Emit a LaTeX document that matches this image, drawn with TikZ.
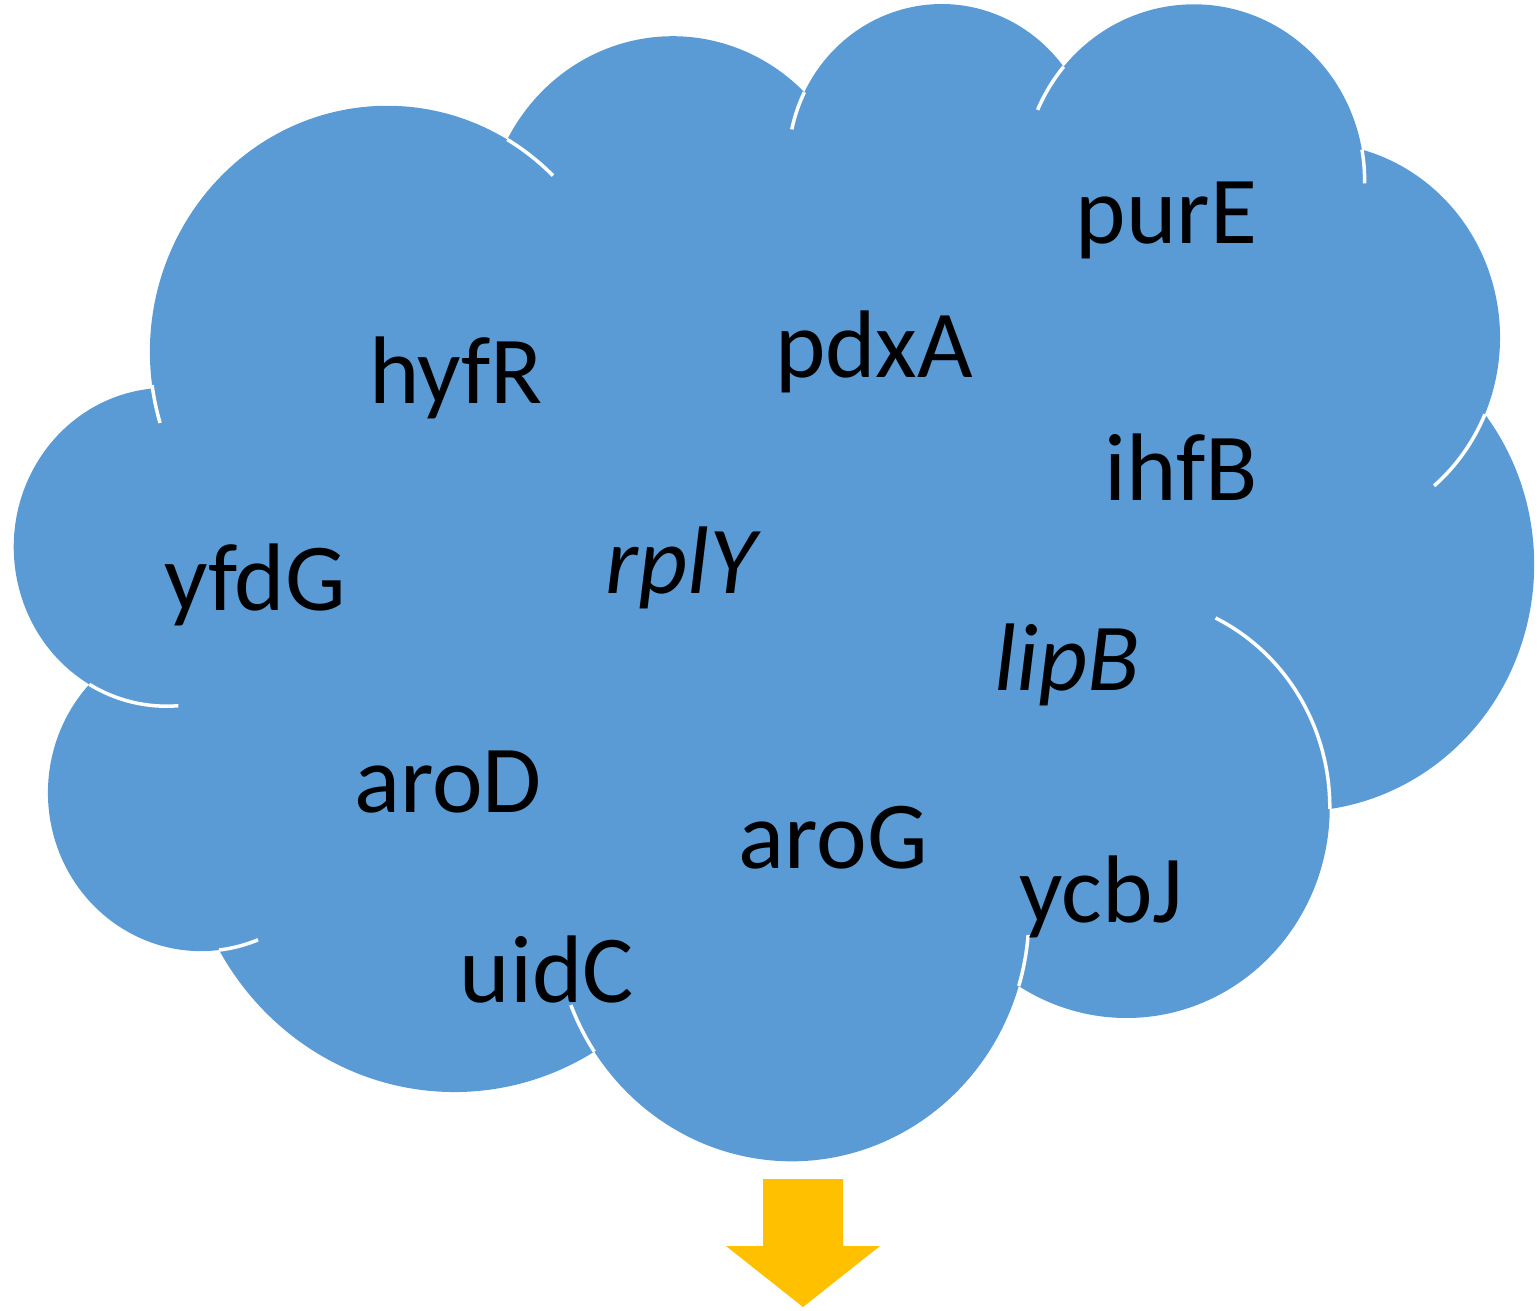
\documentclass[tikz,border=0pt]{standalone}
\usepackage{fontspec}
\setmainfont{Carlito}
\definecolor{cloudblue}{HTML}{5B9BD5}
\definecolor{arrowgold}{HTML}{FFC000}

% one white inner stroke of the cloud: centre x, centre y, start, end, x radius, y radius
\newcommand\puffarc[6]{%
  \draw[puff] (#1,#2) ++(#3:#5pt and #6pt)
    arc[start angle=#3, end angle=#4, x radius=#5pt, y radius=#6pt];}

\begin{document}
\begin{tikzpicture}[x=1pt,y=1pt,
  gene/.style={font=\fontsize{96}{115}\selectfont, inner sep=0pt, anchor=base, text=black},
  geneit/.style={gene, font=\fontsize{96}{115}\selectfont\itshape},
  puff/.style={draw=white, line width=3.5pt}]
\useasboundingbox (0,0) rectangle (1537,-1311);

% cloud outline: eleven elliptical lobes
\fill[cloudblue] (152.09,-385.0)
  arc[start angle=-172.254, end angle=-300.36,  x radius=237.37pt, y radius=246.09pt]
  arc[start angle=152.02,   end angle=45.425,   x radius=187.45pt, y radius=194.60pt]
  arc[start angle=153.49,   end angle=37.33,    x radius=153.43pt, y radius=159.20pt]
  arc[start angle=139.713,  end angle=10.212,   x radius=170.72pt, y radius=176.60pt]
  arc[start angle=74.767,   end angle=-23.210,  x radius=187.45pt, y radius=194.76pt]
  arc[start angle=37.529,   end angle=-81.862,  x radius=238.14pt, y radius=246.89pt]
  arc[start angle=-0.4596,  end angle=-121.982, x radius=203.34pt, y radius=210.66pt]
  arc[start angle=-16.844,  end angle=-146.228, x radius=237.33pt, y radius=246.76pt]
  arc[start angle=-58.986,  end angle=-150.201, x radius=271.36pt, y radius=282.32pt]
  arc[start angle=-83.306,  end angle=-223.096, x radius=153.25pt, y radius=158.47pt]
  arc[start angle=-120.36,  end angle=-264.113, x radius=152.73pt, y radius=159.20pt]
  -- cycle;

% inner strokes where the lobes overlap
\puffarc{166.52}{-547.01}{-85.546}{-120.36}{152.73}{159.20}
\puffarc{201.20}{-792.65}{-68.233}{-83.306}{153.25}{158.47}
\puffarc{791.62}{-914.53}{-146.228}{-158.474}{237.33}{246.76}
\puffarc{791.62}{-914.53}{-4.738}{-16.844}{237.33}{246.76}
\puffarc{1126.46}{-807.33}{64.024}{-0.4596}{203.34}{210.66}
\puffarc{1312.68}{-337.49}{-23.210}{-49.627}{187.45}{194.76}
\puffarc{1193.91}{-180.89}{10.212}{-0.821}{170.72}{176.60}
\puffarc{1193.91}{-180.89}{156.28}{139.713}{170.72}{176.60}
\puffarc{941.69}{-163.23}{167.72}{153.49}{153.43}{159.20}
\puffarc{387.29}{-351.84}{59.64}{45.737}{237.37}{246.09}
\puffarc{387.29}{-351.84}{-163.194}{-172.254}{237.37}{246.09}

% gene names
\node[gene]   (purE) at (1166.5,-243) {purE};
\node[gene]   (hyfR) at (456,-403)    {hyfR};
\node[gene]   (pdxA) at (874,-377)    {pdxA};
\node[gene]   (ihfB) at (1181,-500)   {ihfB};
\node[gene]   (yfdG) at (255,-610)    {yfdG};
\node[geneit] (rplY) at (681,-593)    {rplY};
\node[geneit] (lipB) at (1067,-690)   {lipB};
\node[gene]   (aroD) at (448,-812)    {aroD};
\node[gene]   (aroG) at (833,-868)    {aroG};
\node[gene]   (ycbJ) at (1101,-922)   {ycbJ};
\node[gene]   (uidC) at (547,-1002)   {uidC};

% downward block arrow
\fill[arrowgold] (763,-1179) -- (843,-1179) -- (843,-1246) -- (880,-1246)
  -- (803,-1307) -- (726,-1246) -- (763,-1246) -- cycle;
\end{tikzpicture}
\end{document}
